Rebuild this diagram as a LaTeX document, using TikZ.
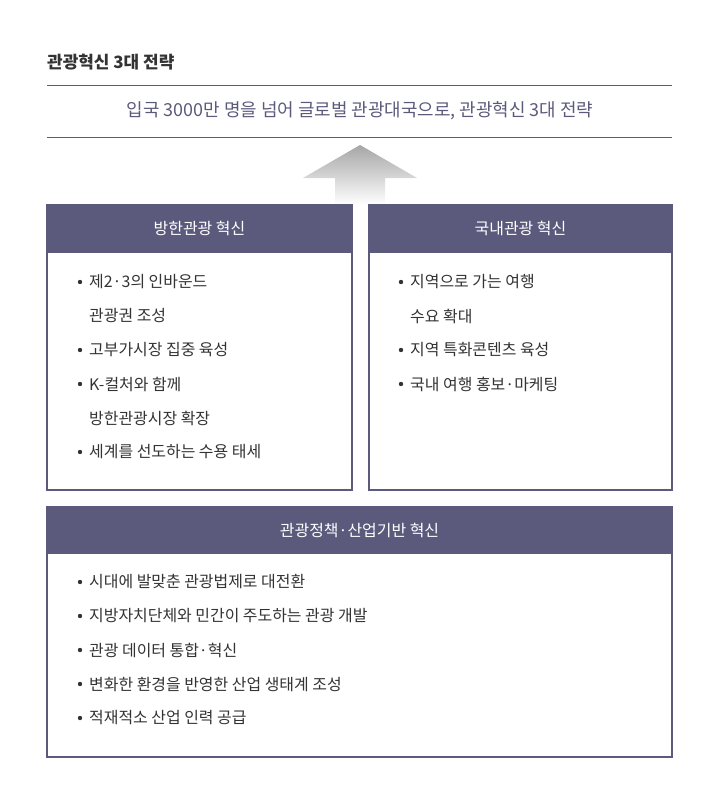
\documentclass[tikz,border=0pt]{standalone}
\usepackage{fontspec}
\newfontfamily\kr{Noto Sans CJK KR}
\definecolor{hdr}{HTML}{5B5A7C}
\definecolor{txt}{HTML}{333333}
\tikzset{
  panel/.style={draw=hdr,line width=1.2pt},
  head/.style={fill=hdr,draw=hdr,line width=1.2pt},
  headtext/.style={text=white,font=\kr\fontsize{16}{18}\selectfont},
  item/.style={anchor=west,text=txt,font=\kr\fontsize{16}{18}\selectfont,inner sep=0pt},
}
\begin{document}
\begin{tikzpicture}[x=1bp,y=-1bp]
\useasboundingbox (0,0) rectangle (720,805);
% title and motto
\node[anchor=west,inner sep=0pt,font=\kr\bfseries\fontsize{17}{19}\selectfont,text=txt] (title) at (47,62) {관광혁신 3대 전략};
\draw[hdr,line width=1pt] (47,85) -- (672,85);
\node[font=\kr\fontsize{18}{20}\selectfont,text=hdr] (motto) at (360,111) {입국 3000만 명을 넘어 글로벌 관광대국으로, 관광혁신 3대 전략};
\draw[hdr,line width=1pt] (47,137) -- (672,137);
% arrow
\shade[top color=black!35,bottom color=white] (360,145) -- (417,178) -- (385,178) -- (385,205) -- (335,205) -- (335,178) -- (303,178) -- cycle;
% left panel
\draw[panel] (47,205) rectangle (352,490);
\draw[head] (47,205) rectangle (352,252);
\node[headtext] (lhead) at (199.5,228.5) {방한관광 혁신};
\foreach \y/\t/\b in {282/제2·3의 인바운드/1, 316/관광권 조성/0, 350/고부가시장 집중 육성/1, 384/K-컬처와 함께/1, 418/방한관광시장 확장/0, 452/세계를 선도하는 수용 태세/1}{
  \ifnum\b=1 \fill[txt] (80,\y) circle (2.2);\fi
  \node[item] at (89,\y) {\t};
}
% right panel
\draw[panel] (369,205) rectangle (672,490);
\draw[head] (369,205) rectangle (672,252);
\node[headtext] (rhead) at (520.5,228.5) {국내관광 혁신};
\foreach \y/\t/\b in {282/지역으로 가는 여행/1, 316/수요 확대/0, 350/지역 특화콘텐츠 육성/1, 384/국내 여행 홍보·마케팅/1}{
  \ifnum\b=1 \fill[txt] (401,\y) circle (2.2);\fi
  \node[item] at (410,\y) {\t};
}
% bottom panel
\draw[panel] (47,507) rectangle (672,757);
\draw[head] (47,507) rectangle (672,553);
\node[headtext] (bhead) at (359.5,530) {관광정책·산업기반 혁신};
\foreach \y/\t in {582/시대에 발맞춘 관광법제로 대전환, 616/지방자치단체와 민간이 주도하는 관광 개발, 650/관광 데이터 통합·혁신, 684/변화한 환경을 반영한 산업 생태계 조성, 718/적재적소 산업 인력 공급}{
  \fill[txt] (80,\y) circle (2.2);
  \node[item] at (89,\y) {\t};
}
\end{tikzpicture}
\end{document}
